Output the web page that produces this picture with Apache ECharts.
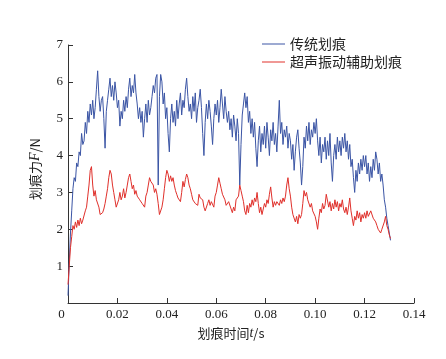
<!DOCTYPE html>
<html><head><meta charset="utf-8">
<script src="https://cdn.jsdelivr.net/npm/echarts@6/dist/echarts.min.js"></script>
<style>html,body{margin:0;padding:0;background:#fff}#c{width:446px;height:359px}</style>
</head><body><div id="c"></div>
<script>
// Sampling step for both traces (s)
var stepT = 0.0005;
var seriesNames = ['传统划痕', '超声振动辅助划痕'];
var xTicks = [0, 0.02, 0.04, 0.06, 0.08, 0.10, 0.12, 0.14];
var yTicks = [0, 1, 2, 3, 4, 5, 6, 7];
// 传统划痕 F (N), one value per 0.0005 s
var blueF = [
0.2,1.1,1.9,2.5,3.1,3.4,3.3,3.8,3.7,4.1,
4.0,4.6,4.3,4.4,4.9,4.6,5.2,4.9,5.4,5.1,
5.5,5.0,5.3,5.8,6.3,5.6,5.2,5.5,5.6,5.0,
4.2,5.2,5.5,5.8,6.1,5.6,5.9,5.5,6.0,5.7,
5.3,5.5,4.8,5.2,5.0,5.5,5.2,5.6,5.3,5.8,
6.1,5.6,5.9,5.7,6.2,5.7,5.4,5.0,5.3,4.9,
5.2,4.5,5.0,5.4,4.9,5.5,5.1,5.3,5.6,5.9,
5.7,6.1,6.2,3.2,5.6,6.2,6.0,5.4,5.7,5.0,
5.3,4.6,4.1,5.0,5.4,4.9,5.2,4.8,5.5,5.0,
5.4,5.7,5.1,5.5,5.3,5.8,6.1,5.6,5.2,5.4,
5.0,5.6,5.2,5.7,4.9,5.3,5.5,5.8,5.3,4.6,
4.0,4.9,5.4,5.0,5.5,5.2,4.8,4.3,5.0,5.4,
5.1,5.5,4.9,5.3,5.8,5.4,5.0,5.6,5.2,4.9,
5.2,4.7,5.0,4.5,5.1,4.8,4.4,5.0,4.6,3.2,
4.3,5.1,5.4,5.7,5.3,5.6,4.9,5.2,4.6,5.0,
4.5,4.9,4.2,3.7,4.4,4.8,4.1,4.6,4.3,4.8,
4.2,4.9,4.5,4.0,4.7,4.4,4.9,4.3,4.6,4.1,
4.8,5.5,4.6,4.9,4.3,4.7,4.5,4.8,4.2,4.6,
4.4,3.9,4.3,3.6,4.1,4.5,4.7,4.2,3.8,3.2,
3.7,4.5,4.2,4.8,4.4,4.9,4.3,4.7,4.5,4.9,
4.6,5.0,4.4,4.0,4.5,3.8,4.3,4.1,4.5,3.9,
4.4,4.0,4.6,3.8,3.3,4.0,4.3,3.9,4.5,4.1,
4.4,4.0,4.5,4.2,4.6,4.1,4.4,3.9,4.3,3.7,
3.9,3.4,3.0,3.6,3.3,3.8,3.5,3.9,3.6,4.0,
3.7,4.0,3.5,3.8,3.3,3.7,3.4,3.9,3.6,4.1,
3.9,3.5,3.8,3.3,3.5,3.2,2.8,2.6,2.3,2.1,
1.9,1.7
];
// 超声振动辅助划痕 F (N), one value per 0.0005 s
var redF = [
0.5,1.0,1.5,1.8,2.1,2.0,2.2,2.05,2.25,2.1,
2.3,2.15,2.25,2.2,2.5,2.6,2.9,3.2,3.6,3.7,
3.2,2.9,3.05,2.8,2.85,2.6,2.4,2.35,2.45,2.55,
2.7,2.9,3.1,3.4,3.6,3.5,3.2,3.0,2.8,2.6,
2.55,2.8,3.0,2.8,2.9,3.1,2.85,3.0,3.2,3.4,
3.5,3.3,3.1,3.2,2.95,3.05,2.9,2.95,2.8,2.85,
2.7,2.75,2.6,2.9,3.0,3.2,3.4,3.3,3.35,3.2,
3.0,3.1,2.95,2.7,2.4,2.35,2.6,2.8,3.1,3.4,
3.6,3.5,3.3,3.45,3.3,3.4,3.2,3.05,2.95,2.85,
2.8,2.75,3.0,3.3,3.15,3.35,3.5,3.4,3.2,3.1,
2.95,2.8,2.85,2.7,2.75,2.65,2.95,2.85,2.9,2.8,
2.6,2.5,2.45,2.7,2.8,2.65,2.75,2.7,2.6,2.9,
3.0,3.2,3.4,3.25,3.1,2.95,3.0,2.8,2.65,2.6,
2.75,2.7,2.55,2.45,2.6,2.5,2.8,2.75,2.9,3.2,
3.05,2.9,2.75,2.5,2.4,2.65,2.45,2.7,2.6,2.8,
2.65,2.85,2.75,3.0,2.7,2.45,2.6,2.4,2.55,2.7,
2.6,2.8,2.7,2.95,3.15,2.85,2.6,2.75,2.65,2.75,
2.7,2.65,2.8,2.7,2.85,2.75,2.9,3.2,3.4,3.1,
2.9,2.6,2.4,2.45,2.2,2.35,2.15,2.4,2.3,2.4,
2.7,3.05,2.9,3.0,2.8,2.85,2.6,2.7,2.5,2.45,
2.35,2.2,2.0,2.3,2.55,2.45,2.7,2.55,2.65,2.95,
2.9,2.6,2.75,2.5,2.7,2.55,2.8,2.6,2.75,2.5,
2.7,2.6,2.8,2.55,2.45,2.6,2.4,2.6,2.85,2.5,
2.3,2.1,2.35,2.25,2.5,2.3,2.45,2.2,2.4,2.3,
2.45,2.3,2.5,2.35,2.4,2.5,2.45,2.3,2.35,2.2,
2.1,2.0,1.95,1.9,2.0,2.05,2.2,2.35,2.1,2.0,
1.85,1.75
];

function pairs(arr){ return arr.map(function(v,i){ return [+(i*stepT).toFixed(4), v]; }); }

var chart = echarts.init(document.getElementById('c'), null, {renderer:'canvas'});
var serif = 'Liberation Serif, Times New Roman, serif';
var cjk = 'Noto Sans CJK SC, sans-serif';
var axisColor = '#333';
chart.setOption({
  animation: false,
  backgroundColor: '#fff',
  grid: {left: 68, right: 32, top: 45, bottom: 56, containLabel: false},
  legend: {
    show: true,
    orient: 'vertical', left: 257, top: 32,
    icon: 'rect',
    itemWidth: 23, itemHeight: 1, itemGap: 4,
    textStyle: {fontFamily: cjk, fontSize: 14, color: '#222', lineHeight: 14},
    data: seriesNames
  },
  xAxis: {
    type: 'value', min: xTicks[0], max: xTicks[xTicks.length-1], interval: 0.02,
    name: '划痕时间{i|t}/s', nameLocation: 'middle', nameGap: 22,
    nameTextStyle: {fontFamily: cjk, fontSize: 13, color: '#222', padding: [0, 20, 0, 0],
      rich: {i: {fontFamily: serif, fontStyle: 'italic', fontSize: 14, color: '#222'}}},
    axisLine: {lineStyle: {color: axisColor, width: 1}},
    axisTick: {inside: true, length: 5, lineStyle: {color: axisColor}},
    splitLine: {show: false},
    axisLabel: {fontFamily: serif, fontSize: 13, color: '#222', margin: 5, showMaxLabel: true,
      formatter: function(v){ return v === 0 ? '{z|0}' : v.toFixed(2); },
      rich: {z: {fontFamily: serif, fontSize: 13, color: '#222', padding: [0, 13, 0, 0]}}}
  },
  yAxis: {
    type: 'value', min: yTicks[0], max: yTicks[yTicks.length-1], interval: 1,
    name: '划痕力{i|F}/N', nameLocation: 'middle', nameGap: 26, nameRotate: 90,
    nameTextStyle: {fontFamily: cjk, fontSize: 13, color: '#222', padding: [0, 0, 0, 10],
      rich: {i: {fontFamily: serif, fontStyle: 'italic', fontSize: 14, color: '#222'}}},
    axisLine: {show: true, lineStyle: {color: axisColor, width: 1}},
    axisTick: {show: true, inside: true, length: 5, lineStyle: {color: axisColor}},
    splitLine: {show: false},
    axisLabel: {fontFamily: serif, fontSize: 13, color: '#222', margin: 5,
      formatter: function(v){ return v === 0 ? '' : String(v); }}
  },
  series: [
    {name: seriesNames[0], type: 'line', data: pairs(blueF), symbol: 'none',
     lineStyle: {color: '#3b55a5', width: 1}, itemStyle: {color: '#3b55a5'}, z: 3},
    {name: seriesNames[1], type: 'line', data: pairs(redF), symbol: 'none',
     lineStyle: {color: '#e0302b', width: 1}, itemStyle: {color: '#e0302b'}, z: 4}
  ]
});
</script></body></html>
